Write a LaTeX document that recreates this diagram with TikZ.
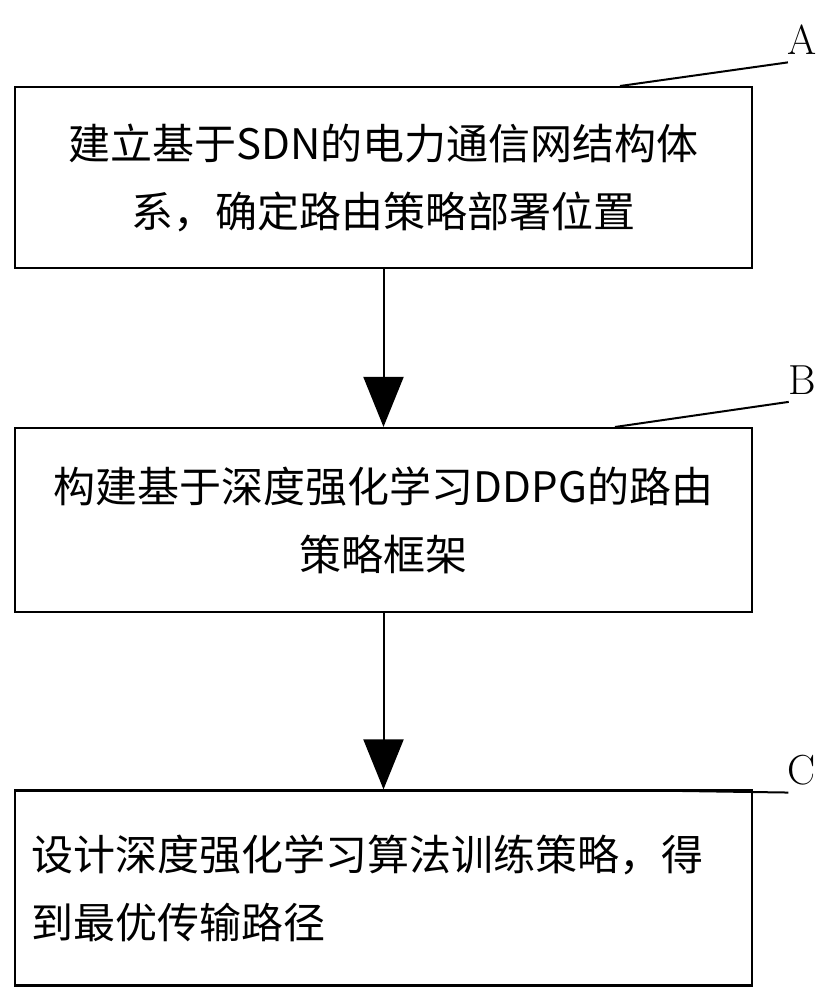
\documentclass[tikz,border=0pt]{standalone}
\usepackage{fontspec}
\newfontfamily\cjk{Noto Sans CJK SC}
\usetikzlibrary{arrows.meta}
\begin{document}
\begin{tikzpicture}[x=1pt,y=-1pt,
    stepbox/.style={draw, line width=2.2pt, minimum width=737pt, inner sep=0pt,
      font=\cjk\fontsize{42}{68}\selectfont},
    flow/.style={line width=2pt, -{Triangle[length=50pt,width=40pt]}},
    tag/.style={font=\fontsize{42}{42}\selectfont}]
   \useasboundingbox (0,0) rectangle (834,1000);
   \node[stepbox, minimum height=181pt, align=center] (A) at (383.5,177.5)
     {建立基于SDN的电力通信网结构体\\系，确定路由策略部署位置};
   \node[stepbox, minimum height=184pt, align=center] (B) at (383.5,520)
     {构建基于深度强化学习DDPG的路由\\策略框架};
   \node[stepbox, minimum height=195pt, align=left, text width=705pt] (C) at (383.5,888)
     {设计深度强化学习算法训练策略，得\\到最优传输路径};

   \draw[flow] (A) -- (B);
   \draw[flow] (B) -- (C);

   % labels
   \node[tag] (a) at (802,40) {A};
   \node[tag] (b) at (802,380) {B};
   \node[tag] (c) at (802,770) {C};
   \draw[line width=2pt] (620,86) -- ([xshift=4pt,yshift=-4pt]a.south west);
   \draw[line width=2pt] (615,427) -- ([xshift=4pt,yshift=-4pt]b.south west);
   \draw[line width=2pt] (615,790) -- ([xshift=4pt,yshift=-4pt]c.south west);
 \end{tikzpicture}
\end{document}
